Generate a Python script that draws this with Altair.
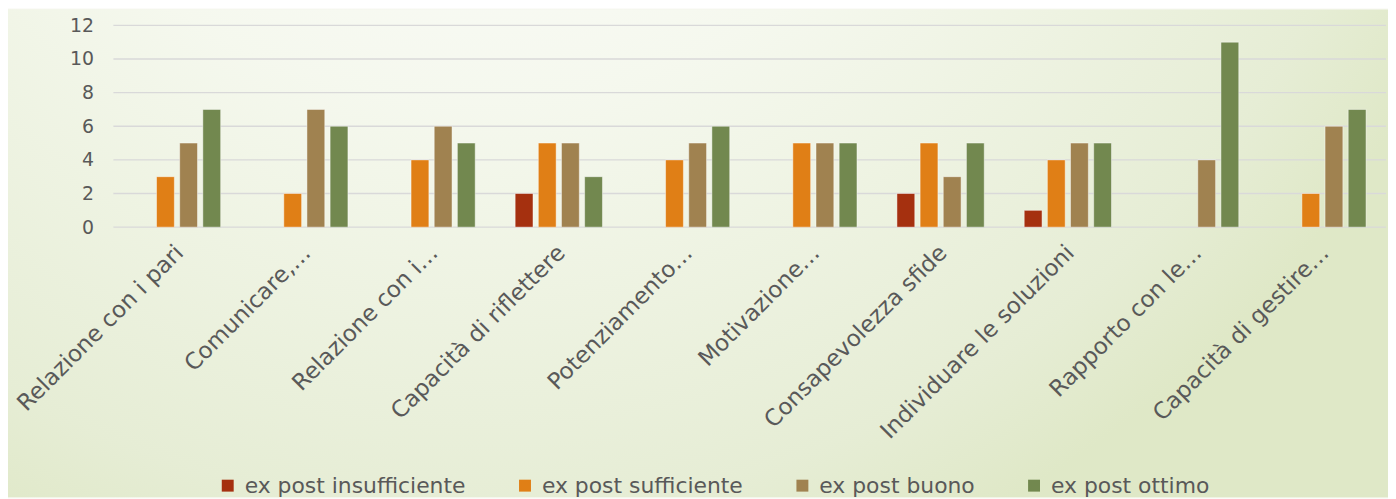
import altair as alt
import pandas as pd

CATEGORIES = [
    "Relazione con i pari",
    "Comunicare,…",
    "Relazione con i…",
    "Capacità di riflettere",
    "Potenziamento…",
    "Motivazione…",
    "Consapevolezza sfide",
    "Individuare le soluzioni",
    "Rapporto con le…",
    "Capacità di gestire…",
]
SERIES = ["ex post insufficiente", "ex post sufficiente", "ex post buono", "ex post ottimo"]
COLORS = ["#A5300F", "#E07F16", "#A08250", "#72884F"]

INSUFFICIENTE = [0, 0, 0, 2, 0, 0, 2, 1, 0, 0]
SUFFICIENTE = [3, 2, 4, 5, 4, 5, 5, 4, 0, 2]
BUONO = [5, 7, 6, 5, 5, 5, 3, 5, 4, 6]
OTTIMO = [7, 6, 5, 3, 6, 5, 5, 5, 11, 7]

Y_TICKS = [0, 2, 4, 6, 8, 10, 12]

rows = []
for s, vals in zip(SERIES, [INSUFFICIENTE, SUFFICIENTE, BUONO, OTTIMO]):
    for c, v in zip(CATEGORIES, vals):
        rows.append({"categoria": c, "serie": s, "value": v})
df = pd.DataFrame(rows)
grid_df = pd.DataFrame({"value": Y_TICKS})

W, H = 1280, 203
FONT = "DejaVu Sans"
TXT = "#595959"

y_enc = alt.Y(
    "value:Q",
    scale=alt.Scale(domain=[0, 12], nice=False),
    axis=alt.Axis(
        values=Y_TICKS, title=None, grid=False, ticks=False, domain=False,
        labelFontSize=19, labelColor=TXT, labelFont=FONT, labelPadding=20,
        zindex=1,
    ),
)

background = alt.Chart(alt.Data(values=[{"bg": 1}])).mark_rect(
    color={
        "gradient": "radial",
        "x1": 0.34, "y1": 0.0, "r1": 0,
        "x2": 0.34, "y2": 0.0, "r2": 0.78,
        "stops": [
            {"offset": 0.0, "color": "#fcfcfb"},
            {"offset": 0.3, "color": "#fafbf7"},
            {"offset": 0.5, "color": "#f5f8ee"},
            {"offset": 0.68, "color": "#eef3e2"},
            {"offset": 0.88, "color": "#e6edd5"},
            {"offset": 1.0, "color": "#dfe8c7"},
        ],
    }
).encode(
    x=alt.value(-106), x2=alt.value(1282), y=alt.value(-16), y2=alt.value(475)
)

grid = alt.Chart(grid_df).mark_rule(color="#d9d9d9", strokeWidth=1.4).encode(
    y=y_enc, x=alt.value(0), x2=alt.value(W)
)

bars = alt.Chart(df).transform_filter("datum.value > 0").mark_bar(
    stroke="white", strokeOpacity=0.45, strokeWidth=1
).encode(
    x=alt.X(
        "categoria:N", sort=CATEGORIES,
        scale=alt.Scale(paddingInner=0.314, paddingOuter=0.157),
        axis=alt.Axis(
            title=None, labelAngle=-45, ticks=False, domain=False,
            labelFontSize=23, labelColor=TXT, labelFont=FONT, labelPadding=14,
            labelOffset=-5, labelLimit=400, zindex=1,
        ),
    ),
    xOffset=alt.XOffset(
        "serie:N", sort=SERIES,
        scale=alt.Scale(domain=SERIES, paddingInner=0.23, paddingOuter=0),
    ),
    y=y_enc,
    color=alt.Color(
        "serie:N", sort=SERIES,
        scale=alt.Scale(domain=SERIES, range=COLORS),
        legend=alt.Legend(
            title=None, orient="none", legendX=104, legendY=452,
            direction="horizontal", symbolType="square", symbolSize=144,
            symbolStrokeWidth=0, labelFontSize=22, labelColor=TXT,
            labelFont=FONT, labelLimit=400, columnPadding=48, labelOffset=6,
        ),
    ),
)

chart = alt.layer(background, grid, bars).properties(
    width=W, height=H, padding=0
).configure_view(stroke=None).configure(background="#fbfbf8")

chart.save("out.html", embed_options={"renderer": "svg", "actions": False})
